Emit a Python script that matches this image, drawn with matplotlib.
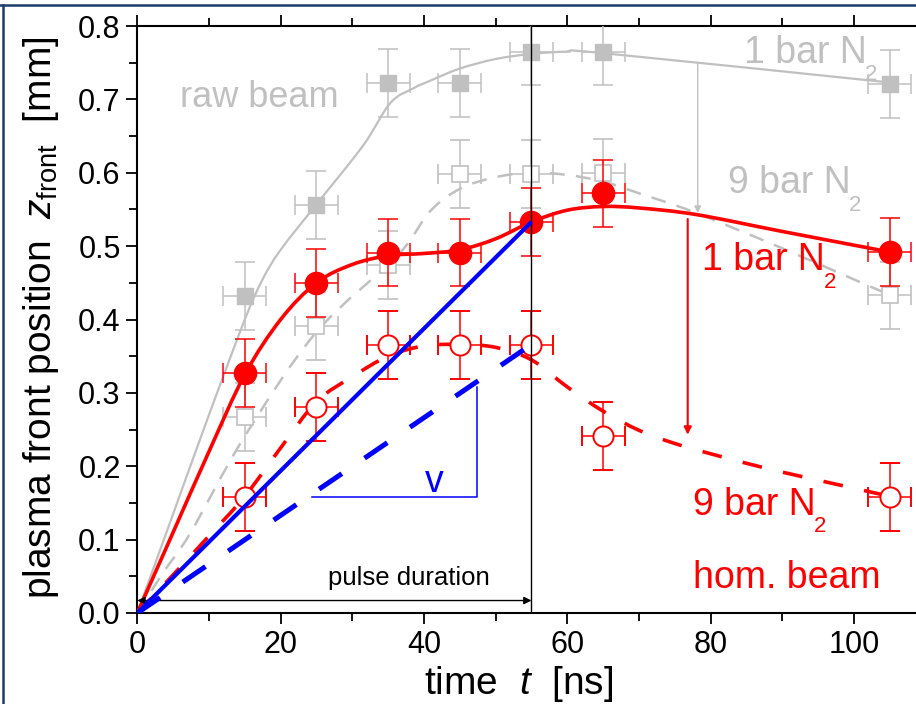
import numpy as np
import matplotlib
matplotlib.use("Agg")
import matplotlib.pyplot as plt
from matplotlib.path import Path
from matplotlib.patches import PathPatch
from matplotlib.lines import Line2D

plt.rcParams['font.family'] = ['Liberation Sans', 'DejaVu Sans']
plt.rcParams['mathtext.fontset'] = 'custom'
plt.rcParams['mathtext.rm'] = 'Liberation Sans'
plt.rcParams['mathtext.it'] = 'Liberation Sans:italic'

# ---------------- data ----------------
t = [15, 25, 35, 45, 55, 65, 105]
t_err = 3.0
z_err = 0.046

raw_1bar = [0.432, 0.556, 0.722, 0.722, 0.765, 0.765, 0.721]
raw_9bar = [0.267, 0.391, 0.474, 0.598, 0.598, 0.600, 0.433]
hom_1bar = [0.327, 0.450, 0.491, 0.491, 0.533, 0.572, 0.492]
hom_9bar = [0.158, 0.281, 0.365, 0.365, 0.365, 0.241, 0.158]

# smooth guide curves (knots)
raw1_fit_t = [0, 5, 10, 15, 17.5, 20, 25, 31.5, 35.3, 38.5, 41, 45, 50, 55, 60, 65, 105]
raw1_fit_z = [0, 0.135, 0.27, 0.40, 0.455, 0.495, 0.557, 0.637, 0.695, 0.715, 0.726, 0.742, 0.755, 0.762, 0.765, 0.763, 0.723]

raw9_fit_t = [0, 3.6, 7.4, 15, 25, 36.3, 40.8, 45, 50, 55, 60, 65, 70, 77.5, 90, 102, 105]
raw9_fit_z = [0, 0.055, 0.109, 0.241, 0.383, 0.487, 0.547, 0.578, 0.594, 0.600, 0.597, 0.588, 0.572, 0.547, 0.497, 0.446, 0.434]

hom1_fit_t = [0, 5, 10, 15, 20, 25, 30, 35, 40, 45, 50, 55, 60, 65, 70, 78, 90, 105]
hom1_fit_z = [0, 0.11, 0.22, 0.325, 0.40, 0.45, 0.475, 0.487, 0.490, 0.495, 0.510, 0.533, 0.549, 0.554, 0.552, 0.543, 0.520, 0.492]

hom9_fit_t = [0, 5, 10, 15, 20, 25, 30, 35, 40, 45, 50, 55, 60, 65, 70, 75, 80, 85, 90, 95, 100, 105]
hom9_fit_z = [0, 0.052, 0.105, 0.159, 0.225, 0.288, 0.322, 0.350, 0.364, 0.366, 0.362, 0.345, 0.308, 0.275, 0.249, 0.231, 0.217, 0.204, 0.192, 0.181, 0.170, 0.159]

vel_t = [0, 55]
vel_1bar = [0, 0.533]
vel_9bar = [0, 0.366]

GRAY = '#c0c0c0'
RED = '#ff0000'
BLUE = '#0000ff'

def smooth_path(xs, ys):
    pts = np.column_stack([xs, ys]).astype(float)
    verts = [pts[0]]
    codes = [Path.MOVETO]
    n = len(pts)
    for i in range(n - 1):
        p0 = pts[i - 1] if i > 0 else pts[i]
        p1 = pts[i]
        p2 = pts[i + 1]
        p3 = pts[i + 2] if i + 2 < n else pts[i + 1]
        verts += [p1 + (p2 - p0) / 6.0, p2 - (p3 - p1) / 6.0, p2]
        codes += [Path.CURVE4] * 3
    return Path(verts, codes)

fig = plt.figure(figsize=(9.16, 7.04), dpi=100)
W, H = 916, 704
x0px, x1px = 137.3, 137.3 + 110 * 7.167
y0px, y1px = 613, 26
ax = fig.add_axes([x0px / W, 1 - y0px / H, (x1px - x0px) / W, (y0px - y1px) / H])
ax.set_xlim(0, 110)
ax.set_ylim(0, 0.8)

# curves
ax.add_patch(PathPatch(smooth_path(raw1_fit_t, raw1_fit_z), fill=False, edgecolor=GRAY, lw=1.6, zorder=2))
ax.add_patch(PathPatch(smooth_path(raw9_fit_t, raw9_fit_z), fill=False, edgecolor=GRAY, lw=1.8,
                       linestyle=(0, (6, 4.5)), zorder=2))
ax.add_patch(PathPatch(smooth_path(hom1_fit_t, hom1_fit_z), fill=False, edgecolor=RED, lw=2.6, zorder=4))
ax.add_patch(PathPatch(smooth_path(hom9_fit_t, hom9_fit_z), fill=False, edgecolor=RED, lw=2.6,
                       linestyle=(0, (5.5, 6)), zorder=4))

# data points
eb = dict(xerr=t_err, yerr=z_err, capsize=7, capthick=1.1, elinewidth=1.1, linestyle='none')
ax.errorbar(t, raw_1bar, marker='s', ms=11.5, mfc=GRAY, mec=GRAY, ecolor=GRAY, color=GRAY, zorder=3, **eb)
ax.errorbar(t, raw_9bar, marker='s', ms=11, mfc='white', mec=GRAY, mew=1.2, ecolor=GRAY, color=GRAY, zorder=3, **eb)
ax.errorbar(t, hom_1bar, marker='o', ms=16, mfc=RED, mec=RED, ecolor=RED, color=RED, zorder=5, **eb)
ax.errorbar(t, hom_9bar, marker='o', ms=14.5, mfc='white', mec=RED, mew=1.4, ecolor=RED, color=RED, zorder=5, **eb)

# velocity lines
ax.plot(vel_t, vel_1bar, color=BLUE, lw=3.0, zorder=7, solid_capstyle='butt')
ax.plot(vel_t, vel_9bar, color=BLUE, lw=3.6, zorder=7, dashes=(5.5, 5.5))
ax.plot([24.4, 47.4, 47.4], [0.158, 0.158, 0.308], color=BLUE, lw=1.1, zorder=6)
ax.text(41.4, 0.165, 'v', color=BLUE, fontsize=27, ha='center', va='baseline', zorder=8)

# pulse duration
ax.axvline(55, color='black', lw=1.0, zorder=6)
ax.annotate('', xy=(55, 0.017), xytext=(0, 0.017),
            arrowprops=dict(arrowstyle='<|-|>', color='black', lw=1.0, mutation_scale=11,
                            shrinkA=0, shrinkB=0), zorder=6)
ax.text(26.6, 0.038, 'pulse duration', fontsize=18.5, color='black', ha='left', va='baseline')

# arrows
ax.annotate('', xy=(78.2, 0.545), xytext=(78.2, 0.750),
            arrowprops=dict(arrowstyle='-|>', color=GRAY, lw=1.0, mutation_scale=10, shrinkA=0, shrinkB=0))
ax.annotate('', xy=(76.8, 0.243), xytext=(76.8, 0.537),
            arrowprops=dict(arrowstyle='-|>', color=RED, lw=1.5, mutation_scale=11, shrinkA=0, shrinkB=0))

# labels
def label(x, y, s, color, size):
    tx = ax.text(x, y, s, color=color, fontsize=size, ha='left', va='baseline', zorder=9)
    ax.annotate('2', xy=(1, y), xycoords=(tx, 'data'), xytext=(-1, -1), textcoords='offset points',
                color=color, fontsize=16, ha='left', va='top', zorder=9)
    return tx

ax.text(6.0, 0.690, 'raw beam', color=GRAY, fontsize=26, ha='left', va='baseline')
label(84.6, 0.750, '1 bar N', GRAY, 27)
label(82.4, 0.572, '9 bar N', GRAY, 27)
label(78.8, 0.467, '1 bar N', RED, 27)
label(77.5, 0.134, '9 bar N', RED, 27)
ax.text(77.5, 0.034, 'hom. beam', color=RED, fontsize=27, ha='left', va='baseline')

# axes styling
for s in ax.spines.values():
    s.set_linewidth(1.5)
ax.set_xticks([0, 20, 40, 60, 80, 100])
ax.set_xticks(np.arange(10, 111, 20), minor=True)
ax.set_yticks(np.round(np.arange(0, 0.81, 0.1), 2))
ax.set_yticks(np.round(np.arange(0.05, 0.8, 0.1), 3), minor=True)
ax.yaxis.set_major_formatter(matplotlib.ticker.FormatStrFormatter('%.1f'))
ax.tick_params(which='both', direction='out', width=1.3, labelsize=22, top=True, right=False)
ax.tick_params(which='major', length=8, pad=4)
ax.tick_params(which='minor', length=6)

fig.text(519 / W, 1 - 684 / H, r'time  $t$  [ns]', fontsize=28, ha='center', va='center')
fig.text(41 / W, 1 - 318 / H, r'plasma front position  $z_{\rm front}$  [mm]', fontsize=28,
         rotation=90, ha='center', va='center')

# frame lines
fig.add_artist(Line2D([0, 1], [1 - 5 / H] * 2, transform=fig.transFigure, color='#1a3d6e', lw=1.8))
fig.add_artist(Line2D([2.5 / W] * 2, [0, 1 - 5 / H], transform=fig.transFigure, color='#1a3d6e', lw=1.8))

fig.savefig('out.png', dpi=100)
